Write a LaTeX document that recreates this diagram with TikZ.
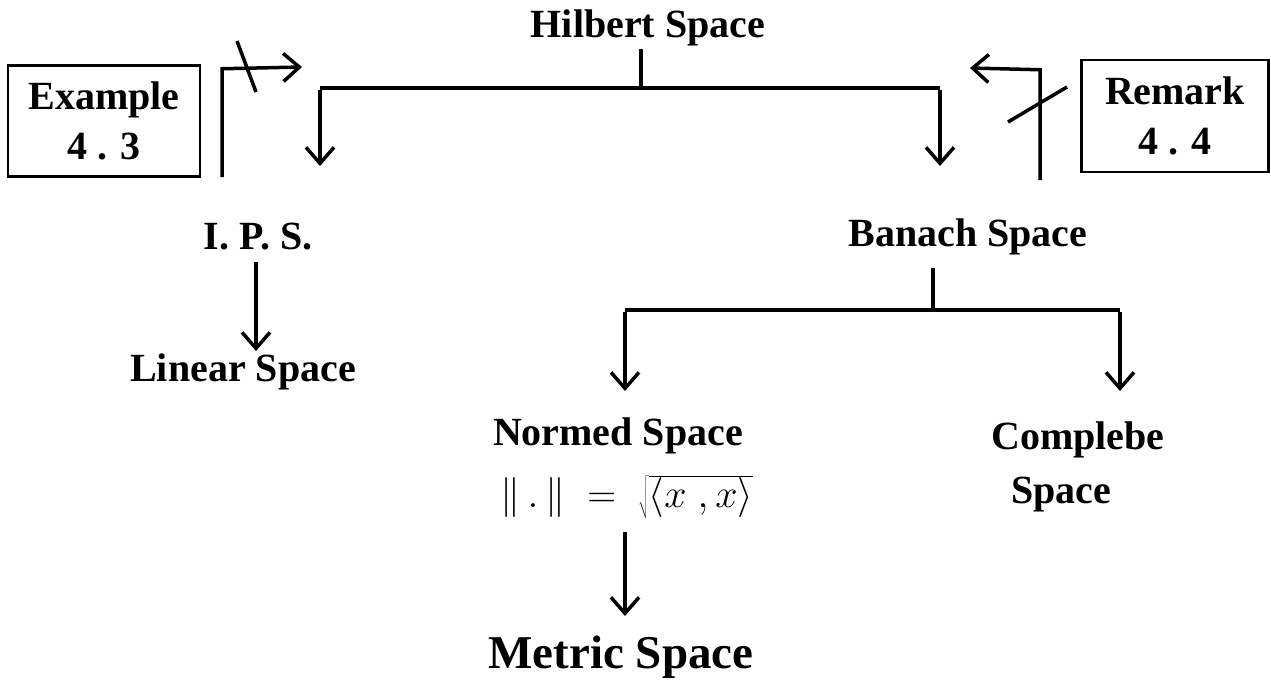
\documentclass[tikz,border=0pt]{standalone}
\usepackage{fix-cm}
\usepackage{fontspec}
\setmainfont{Liberation Serif}
\usetikzlibrary{arrows.meta}
\begin{document}
\begin{tikzpicture}[x=1pt,y=-1pt,
  lbl/.style={font=\fontsize{40}{46}\selectfont\bfseries, inner sep=0pt},
  conn/.style={line width=3.5pt, line cap=butt},
  arr/.style={conn, -{Straight Barb[length=16pt,width=28pt,line width=3.5pt]}},
  boxlbl/.style={draw, line width=2.2pt, font=\fontsize{40}{50}\selectfont\bfseries, align=center, inner sep=0pt}
]
\useasboundingbox (0,0) rectangle (1271,681);
% nodes
\node[lbl] (hil) at (648,28) {Hilbert Space};
\node[lbl] (ips) at (258,237) {I. P. S.};
\node[lbl] (lin) at (243,372) {Linear Space};
\node[lbl] (ban) at (968,237) {Banach Space};
\node[lbl] (nor) at (618,436) {Normed Space};
\node[inner sep=0pt, font=\fontsize{40}{46}\selectfont] (frm) at (627,497) {$\|\,.\,\|\;=\;\sqrt{\langle x\;,x\rangle}$};
\node[lbl, font=\fontsize{47}{52}\selectfont\bfseries] (met) at (621,657) {Metric Space};
\node[lbl] (com) at (1078,440) {Complebe};
\node[lbl] (spc) at (1061,495) {Space};
\node[boxlbl, minimum width=192pt, minimum height=111pt] (ex) at (104,121) {Example\\4 . 3};
\node[boxlbl, minimum width=187pt, minimum height=112pt] (rm) at (1175,116) {Remark\\4 . 4};
% Hilbert tree
\coordinate (hb) at (641,88);
\coordinate (hl) at (320,88);
\coordinate (hr) at (940,88);
\draw[conn] (641,49) -- (hb);
\draw[conn] (hl) -- (hr);
\draw[arr] ([yshift=-1.75pt]hl) -- (320,166);
\draw[arr] ([yshift=-1.75pt]hr) -- (940,166);
% left L arrow with slash
\coordinate (la) at (222,177);
\coordinate (lc) at (222,67);
\coordinate (lt) at (302,67);
\draw[arr] (la) -- ([yshift=-1.75pt]lc) -- (lt);
\draw[line width=3.5pt] (237,41) -- (256,92);
% right L arrow with slash
\coordinate (ra) at (1040,180);
\coordinate (rc) at (1040,68);
\coordinate (rt) at (970,68);
\draw[arr] (ra) -- ([yshift=-1.75pt]rc) -- (rt);
\draw[line width=3.5pt] (1008,122) -- (1067,87);
% IPS -> Linear
\draw[arr] (256,262) -- (256,351);
% Banach tree
\coordinate (bb) at (933,310);
\coordinate (bl) at (625,310);
\coordinate (br) at (1120,310);
\draw[conn] (933,268) -- (bb);
\draw[conn] (bl) -- (br);
\draw[arr] ([yshift=-1.75pt]bl) -- (625,391);
\draw[arr] ([yshift=-1.75pt]br) -- (1120,391);
% Normed -> Metric
\draw[arr] (625,532) -- (625,616);
\end{tikzpicture}
\end{document}
